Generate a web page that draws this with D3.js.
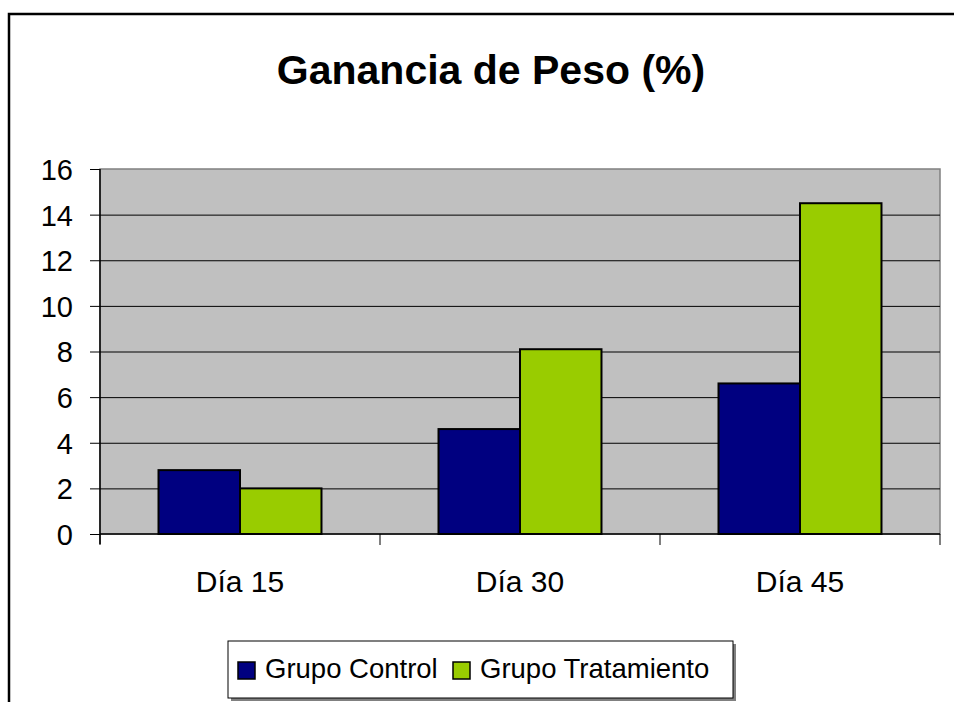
<!DOCTYPE html>
<html lang="es">
<head>
<meta charset="utf-8">
<script src="https://d3js.org/d3.v7.min.js"></script>
<style>
body { margin: 0; background: #fff; }
svg text { font-family: Arial, "Liberation Sans", sans-serif; fill: #000; }
</style>
</head>
<body>
<svg width="954" height="702"></svg>
<script>
// data
var categories = ["Día 15", "Día 30", "Día 45"];
var series = ["Grupo Control", "Grupo Tratamiento"];
var control = [2.8, 4.6, 6.6];
var tratamiento = [2.0, 8.1, 14.5];
var yTicks = [0, 2, 4, 6, 8, 10, 12, 14, 16];
var colors = ["#000080", "#99cc00"];

var svg = d3.select("svg");
var plot = {left: 100, right: 940, top: 169, bottom: 534};

// outer chart border (continues past the window)
svg.append("rect")
    .attr("x", 9).attr("y", 14)
    .attr("width", 1000).attr("height", 800)
    .attr("fill", "#fff")
    .attr("stroke", "#000")
    .attr("stroke-width", 2.5);

// title
svg.append("text")
    .attr("x", 491).attr("y", 84)
    .attr("text-anchor", "middle")
    .style("font-size", "41px")
    .style("font-weight", "bold")
    .text("Ganancia de Peso (%)");

var x = d3.scaleBand()
    .domain(categories)
    .range([plot.left, plot.right]);

var x1 = d3.scaleBand()
    .domain(series)
    .range([0, x.bandwidth()])
    .paddingOuter(0.718);

var y = d3.scaleLinear()
    .domain([0, 16])
    .range([plot.bottom, plot.top]);

// plot background
svg.append("rect")
    .attr("x", plot.left).attr("y", plot.top)
    .attr("width", plot.right - plot.left)
    .attr("height", plot.bottom - plot.top)
    .attr("fill", "#c0c0c0")
    .attr("stroke", "#808080")
    .attr("stroke-width", 1.5);

// gridlines
svg.append("g")
  .selectAll("line")
  .data(yTicks.slice(1, -1))
  .enter().append("line")
    .attr("x1", plot.left).attr("x2", plot.right)
    .attr("y1", function(d) { return y(d) + 0.5; })
    .attr("y2", function(d) { return y(d) + 0.5; })
    .attr("stroke", "#000")
    .attr("stroke-width", 1);

// y axis
var yAxis = svg.append("g")
    .attr("transform", "translate(" + plot.left + ",0)")
    .call(d3.axisLeft(y).tickValues(yTicks).tickSize(10).tickPadding(17));
yAxis.select(".domain").attr("stroke", "#000").attr("stroke-width", 1.5)
    .attr("d", "M0," + plot.top + "V" + (plot.bottom + 10));
yAxis.selectAll(".tick line").attr("stroke", "#000");
yAxis.selectAll(".tick text")
    .attr("dy", "0.36em")
    .style("font-size", "29px")
    .style("font-family", "Arial, 'Liberation Sans', sans-serif");

// x axis
var xAxis = svg.append("g")
    .attr("transform", "translate(0," + plot.bottom + ")")
    .call(d3.axisBottom(x).tickSize(0).tickPadding(47));
xAxis.select(".domain").attr("stroke", "#000").attr("stroke-width", 1.5)
    .attr("d", "M" + plot.left + ",0H" + plot.right);
xAxis.selectAll(".tick text")
    .attr("dy", "0.36em")
    .style("font-size", "30px")
    .style("font-family", "Arial, 'Liberation Sans', sans-serif");
xAxis.selectAll(".sep")
  .data(categories.map(function(c) { return x(c); }).concat([x.range()[1]]))
  .enter().append("line")
    .attr("class", "sep")
    .attr("x1", function(d) { return d; }).attr("x2", function(d) { return d; })
    .attr("y1", 0).attr("y2", 11)
    .attr("stroke", "#000");

// bars
var groups = svg.append("g")
  .selectAll("g")
  .data(categories)
  .enter().append("g")
    .attr("transform", function(d) { return "translate(" + x(d) + ",0)"; });

groups.selectAll("rect")
  .data(function(d, i) {
    return [
      {s: series[0], v: control[i], c: colors[0]},
      {s: series[1], v: tratamiento[i], c: colors[1]}
    ];
  })
  .enter().append("rect")
    .attr("x", function(d) { return x1(d.s); })
    .attr("y", function(d) { return y(d.v); })
    .attr("width", x1.bandwidth())
    .attr("height", function(d) { return y(0) - y(d.v); })
    .attr("fill", function(d) { return d.c; })
    .attr("stroke", "#000")
    .attr("stroke-width", 2);

// legend
var legend = svg.append("g");
legend.append("rect")
    .attr("x", 231).attr("y", 644)
    .attr("width", 505).attr("height", 57)
    .attr("fill", "#808080");
legend.append("rect")
    .attr("x", 228).attr("y", 641)
    .attr("width", 505).attr("height", 57)
    .attr("fill", "#fff")
    .attr("stroke", "#000")
    .attr("stroke-width", 1);

var legendX = [238, 453];
var items = legend.selectAll(".item")
  .data(series)
  .enter().append("g")
    .attr("class", "item")
    .attr("transform", function(d, i) { return "translate(" + legendX[i] + ",662)"; });
items.append("rect")
    .attr("width", 17).attr("height", 17)
    .attr("fill", function(d, i) { return colors[i]; })
    .attr("stroke", "#000")
    .attr("stroke-width", 1.5);
items.append("text")
    .attr("x", 27).attr("y", 16)
    .style("font-size", "27.5px")
    .text(function(d) { return d; });
</script>
</body>
</html>
